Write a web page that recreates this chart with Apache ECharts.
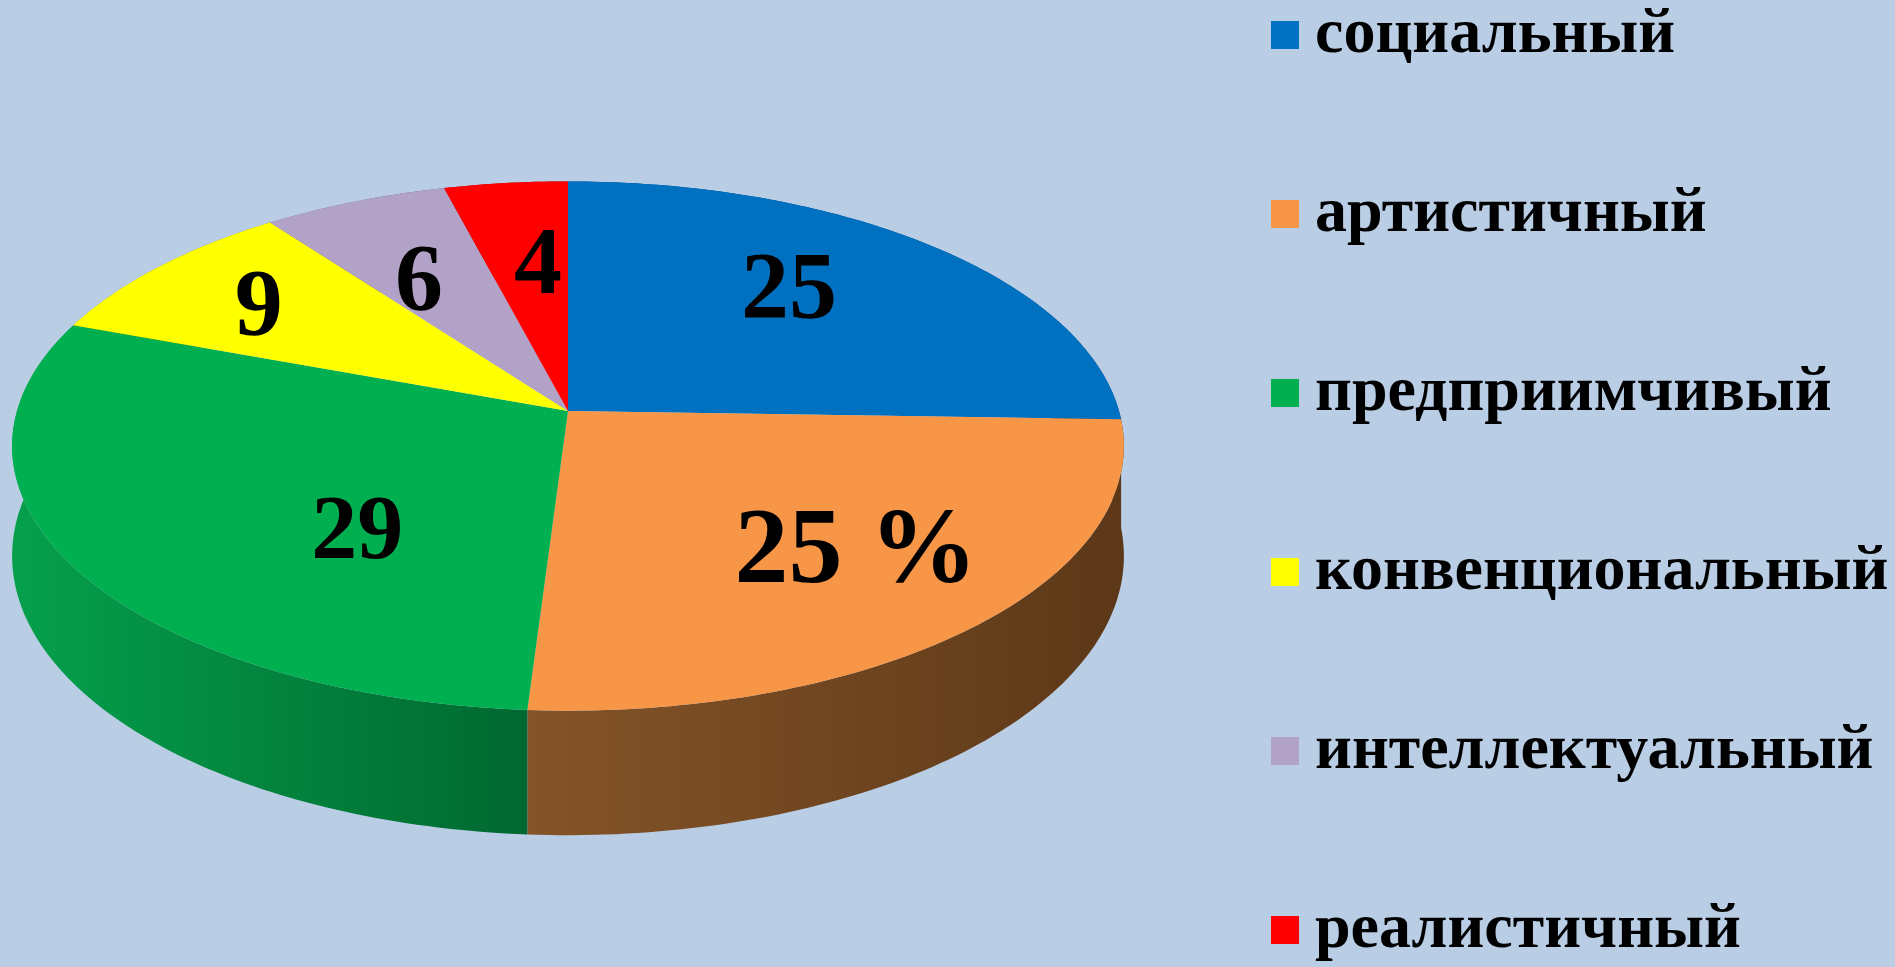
<!DOCTYPE html>
<html>
<head>
<meta charset="utf-8">
<title>Типы личности</title>
<script src="https://cdn.jsdelivr.net/npm/echarts@6/dist/echarts.min.js"></script>
<style>
  html, body { margin: 0; padding: 0; background: #B9CDE5; }
  #chart { width: 1895px; height: 967px; }
</style>
</head>
<body>
<div id="chart"></div>
<script>
// данные
var categories = ['социальный', 'артистичный', 'предприимчивый', 'конвенциональный', 'интеллектуальный', 'реалистичный'];
var values = [25, 25, 29, 9, 6, 4];
var valueLabels = ['25', '25 %', '29', '9', '6', '4'];

// оформление
var colors = ['#0070C0', '#F79646', '#00B050', '#FFFF00', '#B3A2C7', '#FF0000'];
var sideColors = [ // боковая стенка: слева светлее, справа темнее
  ['#00518c', '#003d69'],
  ['#855428', '#5c3818'],
  ['#05a04c', '#006830'],
  ['#b8b800', '#8a8a00'],
  ['#82769a', '#625873'],
  ['#b80000', '#8a0000']
];
var labelSizes = [96, 108, 92, 96, 96, 96];
var labelRadius = [0.644, 0.707, 0.573, 0.72, 0.594, 0.595]; // доля радиуса
var labelShift = [-4.4, -1.3, -18, -2, -3.4, 1.7];            // градусы от середины сектора
var labelFont = 'Liberation Serif';

var total = values.reduce(function (s, v) { return s + v; }, 0);
var startAngles = [];
var acc = 0;
values.forEach(function (v) {
  startAngles.push(acc / total * Math.PI * 2);
  acc += v;
});

// диск в перспективе
var disc = { cx: 568, cy: 411, rx: 551, ry: 260, persp: 0.1324, depth: 108 };

function project(r, ang, down) {
  var u = r * Math.sin(ang);
  var v = -r * Math.cos(ang); // +1 ближе к зрителю
  var k = 1 / (1 - disc.persp * v);
  return [
    disc.cx + disc.rx * u * k,
    disc.cy + disc.ry * v * k + (down ? disc.depth * k : 0)
  ];
}

function renderItem(params, api) {
  var i = params.dataIndex;
  var a0 = startAngles[i];
  var a1 = a0 + api.value(0) / total * Math.PI * 2;
  var n = Math.max(2, Math.ceil((a1 - a0) / (Math.PI / 180)));
  var top = [project(0, 0, false)];
  var upper = [], lower = [];
  for (var j = 0; j <= n; j++) {
    var a = a0 + (a1 - a0) * j / n;
    var p = project(1, a, false);
    top.push(p);
    upper.push(p);
    lower.push(project(1, a, true));
  }
  var side = upper.concat(lower.reverse());
  var lp = project(labelRadius[i], (a0 + a1) / 2 + labelShift[i] * Math.PI / 180, false);
  return {
    type: 'group',
    children: [
      {
        type: 'polygon',
        z2: 1,
        shape: { points: side },
        style: {
          fill: new echarts.graphic.LinearGradient(0, 0, 1, 0, [
            { offset: 0, color: sideColors[i][0] },
            { offset: 1, color: sideColors[i][1] }
          ])
        }
      },
      {
        type: 'polygon',
        z2: 5,
        shape: { points: top },
        style: { fill: colors[i] }
      },
      {
        type: 'text',
        z2: 10,
        x: lp[0],
        y: lp[1],
        style: {
          text: valueLabels[i],
          fill: '#000',
          fontFamily: labelFont,
          fontWeight: 'bold',
          fontSize: labelSizes[i],
          align: 'center',
          verticalAlign: 'middle'
        }
      }
    ]
  };
}

var chart = echarts.init(document.getElementById('chart'));
chart.setOption({
  backgroundColor: '#B9CDE5',
  animation: false,
  color: colors,
  legend: {
    orient: 'vertical',
    left: 1271,
    top: 3,
    padding: 0,
    icon: 'rect',
    itemWidth: 28,
    itemHeight: 28,
    itemGap: 115,
    selectedMode: false,
    data: categories,
    textStyle: {
      fontFamily: labelFont,
      fontWeight: 'bold',
      fontSize: 64,
      color: '#000',
      padding: [0, 0, 0, 11]
    }
  },
  series: [
    {
      type: 'custom',
      coordinateSystem: 'none',
      renderItem: renderItem,
      data: values
    },
    {
      // только для легенды
      type: 'pie',
      radius: [0, 0],
      center: [-50, -50],
      silent: true,
      label: { show: false },
      labelLine: { show: false },
      data: categories.map(function (c, i) { return { name: c, value: values[i] }; })
    }
  ]
});
</script>
</body>
</html>
